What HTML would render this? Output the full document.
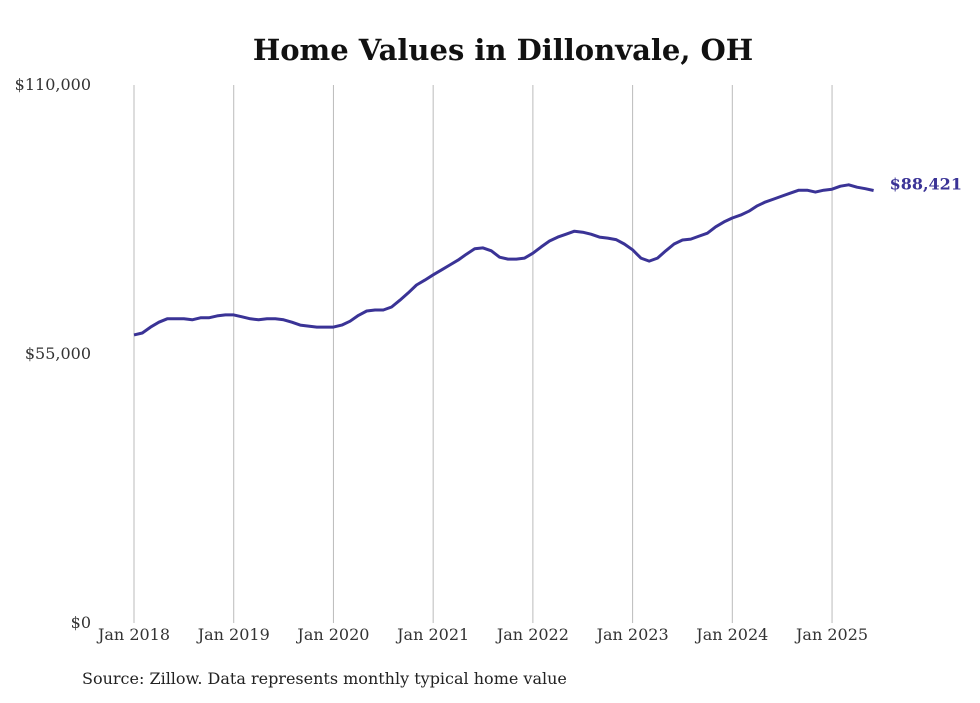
<!DOCTYPE html>
<html><head><meta charset="utf-8">
<style>
body{margin:0;background:#fff;width:980px;height:699px;overflow:hidden;font-family:"DejaVu Serif","Liberation Serif",serif;}
</style></head>
<body>
<svg width="980" height="699">
<text x="503" y="60" text-anchor="middle" font-size="29" font-weight="bold" fill="#111">Home Values in Dillonvale, OH</text>
<g id="grid"></g>
<g id="yaxis"></g>
<g id="xaxis"></g>
<path id="line" fill="none" stroke="#3a3396" stroke-width="3" stroke-linejoin="round"></path>
<text id="lastlabel" font-size="16" font-weight="bold" fill="#3a3396"></text>
<text x="82" y="684" font-size="16" fill="#222">Source: Zillow. Data represents monthly typical home value</text>
</svg>
<script>
const xLabels=["Jan 2018","Jan 2019","Jan 2020","Jan 2021","Jan 2022","Jan 2023","Jan 2024","Jan 2025"];
const yTicks=[0,55000,110000];
const yTickLabels=["$0","$55,000","$110,000"];
const values=[
58900,59300,60500,61500,62200,62200,62200,62000,62400,62400,62800,63000,
63000,62600,62200,62000,62200,62200,62000,61500,60900,60700,60500,60500,
60500,60900,61700,62900,63800,64000,64000,64600,66000,67500,69100,70100,
71200,72200,73200,74200,75400,76500,76700,76100,74800,74400,74400,74600,
75600,76900,78100,78900,79500,80100,79900,79500,78900,78700,78400,77500,
76300,74600,74000,74600,76100,77500,78300,78500,79100,79700,81000,82000,
82800,83400,84200,85300,86100,86700,87300,87900,88500,88500,88100,88500,
88700,89300,89600,89100,88800,88421];
const lastLabel="$88,421";
const NS="http://www.w3.org/2000/svg";
const x0=134,pxPerMonth=8.31,yBase=623,yTop=85,yMax=110000;
const xs=m=>x0+m*pxPerMonth;
const ys=v=>yBase-(v/yMax)*(yBase-yTop);
const grid=document.getElementById('grid'),xa=document.getElementById('xaxis'),ya=document.getElementById('yaxis');
xLabels.forEach((l,i)=>{
 const x=xs(i*12);
 const ln=document.createElementNS(NS,'line');
 ln.setAttribute('x1',x);ln.setAttribute('x2',x);ln.setAttribute('y1',yTop);ln.setAttribute('y2',yBase);
 ln.setAttribute('stroke','#bbb');ln.setAttribute('stroke-width','1');
 
 
 grid.appendChild(ln);
 const t=document.createElementNS(NS,'text');
 t.setAttribute('x',x);t.setAttribute('y',640);t.setAttribute('text-anchor','middle');
 t.setAttribute('font-size','16');t.setAttribute('fill','#333');t.textContent=l;
 
 
 xa.appendChild(t);
});
yTicks.forEach((v,i)=>{
 const t=document.createElementNS(NS,'text');
 t.setAttribute('x',91);t.setAttribute('y',ys(v)+5);t.setAttribute('text-anchor','end');
 t.setAttribute('font-size','16');t.setAttribute('fill','#333');t.textContent=yTickLabels[i];
 
 
 ya.appendChild(t);
});
document.getElementById('line').setAttribute('d',values.map((v,i)=>(i?'L':'M')+xs(i).toFixed(1)+','+ys(v).toFixed(1)).join(''));
const ll=document.getElementById('lastlabel');
const li=values.length-1;
ll.setAttribute('x',xs(li)+16);ll.setAttribute('y',ys(values[li])-1);ll.textContent=lastLabel;
</script>
</body></html>
